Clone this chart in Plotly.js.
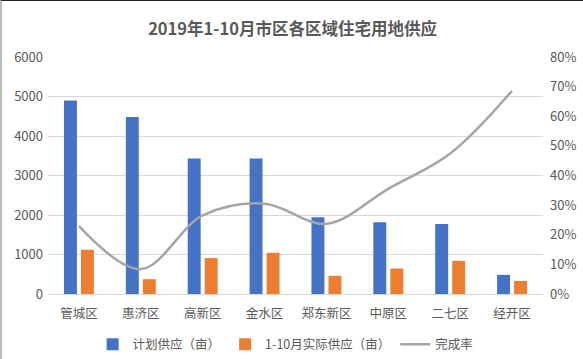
<!DOCTYPE html>
<html><head><meta charset="utf-8">
<script src="https://cdn.plot.ly/plotly-3.0.1.min.js"></script>
<style>
html,body{margin:0;padding:0;background:#fff;}
#chart{width:583px;height:359px;box-sizing:border-box;border-top:1px solid #222;border-left:2px solid #bbb;}
</style></head>
<body><div id="chart"></div>
<script>
var categories = ['管城区','惠济区','高新区','金水区','郑东新区','中原区','二七区','经开区'];
var planned = [4900, 4480, 3430, 3430, 1940, 1815, 1775, 485];
var actual = [1120, 375, 910, 1045, 460, 645, 840, 330];
var rate = [0.229, 0.084, 0.265, 0.305, 0.237, 0.355, 0.474, 0.686];

var font = 'Noto Sans CJK SC, Noto Sans, sans-serif';
var data = [
  {type:'bar', name:'计划供应（亩）', x:categories, y:planned, marker:{color:'#4472c4'}},
  {type:'bar', name:'1-10月实际供应（亩）', x:categories, y:actual, marker:{color:'#ed7d31'}},
  {type:'scatter', mode:'lines', name:'完成率', x:categories, y:rate, yaxis:'y2',
   line:{color:'#a5a5a5', width:2.5, shape:'spline', smoothing:1}}
];
var layout = {
  width:581, height:358,
  margin:{l:46, r:40, t:56, b:65, autoexpand:false},
  paper_bgcolor:'#fff', plot_bgcolor:'#fff',
  font:{family:font, size:12, color:'#595959'},
  title:{text:'<b>2019年1-10月市区各区域住宅用地供应</b>', x:0.5, xanchor:'center', y:0.92, yanchor:'middle',
         font:{family:font, size:16.5, color:'#595959'}},
  barmode:'group', bargap:0.45, bargroupgap:0.24,
  showlegend:true,
  legend:{orientation:'h', x:0.48, xanchor:'center', y:-0.15, yanchor:'top', font:{size:12.5, color:'#595959'}, tracegroupgap:0},
  xaxis:{showgrid:false, showline:true, linecolor:'#d9d9d9', ticks:'', ticklabelstandoff:8, automargin:false, tickfont:{size:12.5, color:'#595959'}},
  yaxis:{range:[0,6000], dtick:1000, gridcolor:'#d9d9d9', zeroline:false, ticks:'', automargin:false, ticklabelstandoff:4, tickfont:{size:13, color:'#595959'}},
  yaxis2:{overlaying:'y', side:'right', range:[0,0.8], dtick:0.1, tickformat:'.0%', showgrid:false, zeroline:false, automargin:false,
          ticks:'', ticklabelstandoff:6, tickfont:{size:13, color:'#595959'}}
};
Plotly.newPlot('chart', data, layout, {displayModeBar:false, staticPlot:true});
</script></body></html>
